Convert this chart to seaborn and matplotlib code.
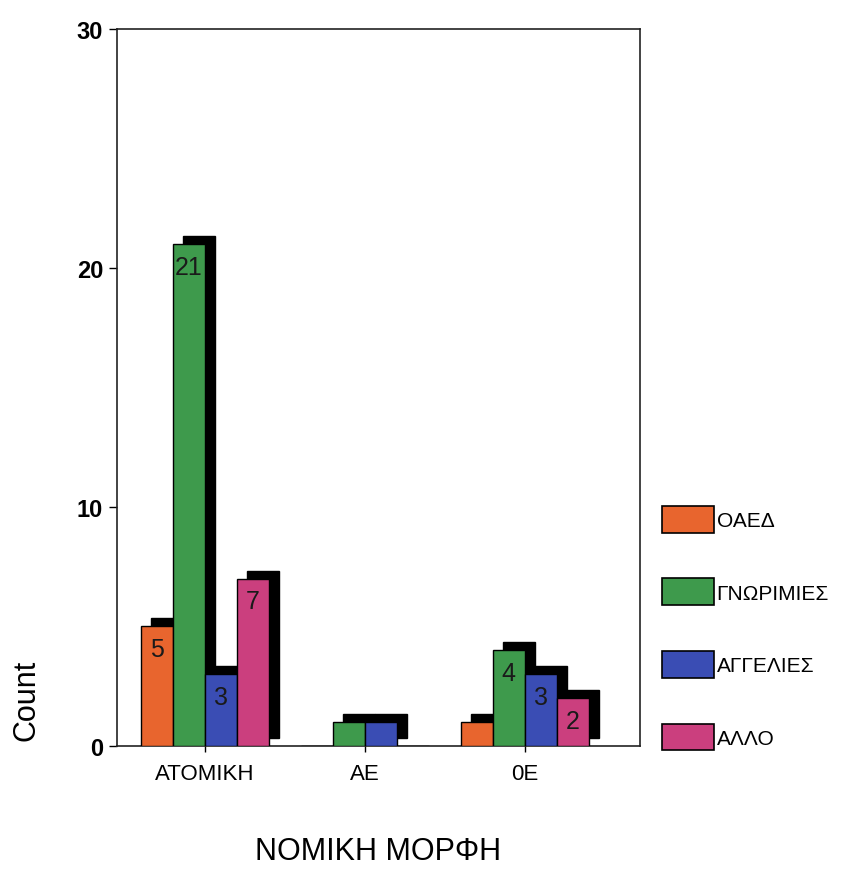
import matplotlib
matplotlib.use("Agg")
import matplotlib.pyplot as plt
import matplotlib.transforms as mtransforms
from matplotlib.patches import Rectangle, Patch
import pandas as pd
import seaborn as sns

# data
categories = ["ΑΤΟΜΙΚΗ", "ΑΕ", "0E"]
sources = ["ΟΑΕΔ", "ΓΝΩΡΙΜΙΕΣ", "ΑΓΓΕΛΙΕΣ", "ΑΛΛΟ"]
oaed = [5, 0, 1]
gnorimies = [21, 1, 4]
aggelies = [3, 1, 3]
allo = [7, 0, 2]
colors = ["#E8652E", "#3E9A4C", "#3A4DB4", "#CB3F7E"]

rows = []
for src, vals in zip(sources, [oaed, gnorimies, aggelies, allo]):
    for cat, v in zip(categories, vals):
        rows.append({"ΝΟΜΙΚΗ ΜΟΡΦΗ": cat, "source": src, "Count": v})
df = pd.DataFrame(rows)

sns.set_style("white")
plt.rcParams["font.family"] = ["Liberation Sans", "DejaVu Sans"]
plt.rcParams["text.color"] = "black"
plt.rcParams["axes.labelcolor"] = "black"
plt.rcParams["xtick.color"] = "black"
plt.rcParams["ytick.color"] = "black"

fig = plt.figure(figsize=(8.64, 8.70), dpi=100)
ax = fig.add_axes([0.1354, 0.1414, 0.6053, 0.8241])

sns.barplot(data=df, x="ΝΟΜΙΚΗ ΜΟΡΦΗ", y="Count", hue="source",
            order=categories, hue_order=sources, palette=colors,
            width=0.8, edgecolor="black", linewidth=1.0, saturation=1,
            legend=False, ax=ax, zorder=3)

# black "3D" shadow behind every bar, offset up-right in pixels
shift = mtransforms.ScaledTranslation(10 / 100, 8 / 100, fig.dpi_scale_trans)
for p in list(ax.patches):
    h = p.get_height()
    if h <= 0:
        continue
    sh = Rectangle((p.get_x(), 0), p.get_width(), h,
                   transform=ax.transData + shift,
                   facecolor="black", edgecolor="black", zorder=2)
    ax.add_patch(sh)
    if h > 1:
        ax.text(p.get_x() + p.get_width() / 2, h - 0.45, f"{int(h)}",
                ha="center", va="top", fontsize=18, color="#1a1a1a", zorder=4)

ax.set_ylim(0, 30)
ax.set_xlim(-0.55, 2.72)
ax.set_yticks([0, 10, 20, 30])
ax.tick_params(axis="y", labelsize=17, length=6, width=1, direction="out", left=True, pad=4)
ax.tick_params(axis="x", labelsize=16, length=8, width=1, direction="inout", bottom=True, pad=8)
for lab in ax.get_yticklabels():
    lab.set_fontweight("bold")

for s in ax.spines.values():
    s.set_visible(True)
    s.set_color("#222222")
    s.set_linewidth(1.2)

ax.set_xlabel("ΝΟΜΙΚΗ ΜΟΡΦΗ", fontsize=22, labelpad=38)
ax.set_ylabel("Count", fontsize=22)
ax.yaxis.set_label_coords(-0.145, 0.065)

handles = [Patch(facecolor=c, edgecolor="black", linewidth=1.2) for c in colors]
fig.legend(handles, sources, loc="upper left", bbox_to_anchor=(0.757, 0.427),
           frameon=False, fontsize=15, handlelength=2.5, handleheight=1.6,
           labelspacing=2.2, handletextpad=0.1, borderaxespad=0)

fig.savefig("out.png", dpi=100, facecolor="white")
